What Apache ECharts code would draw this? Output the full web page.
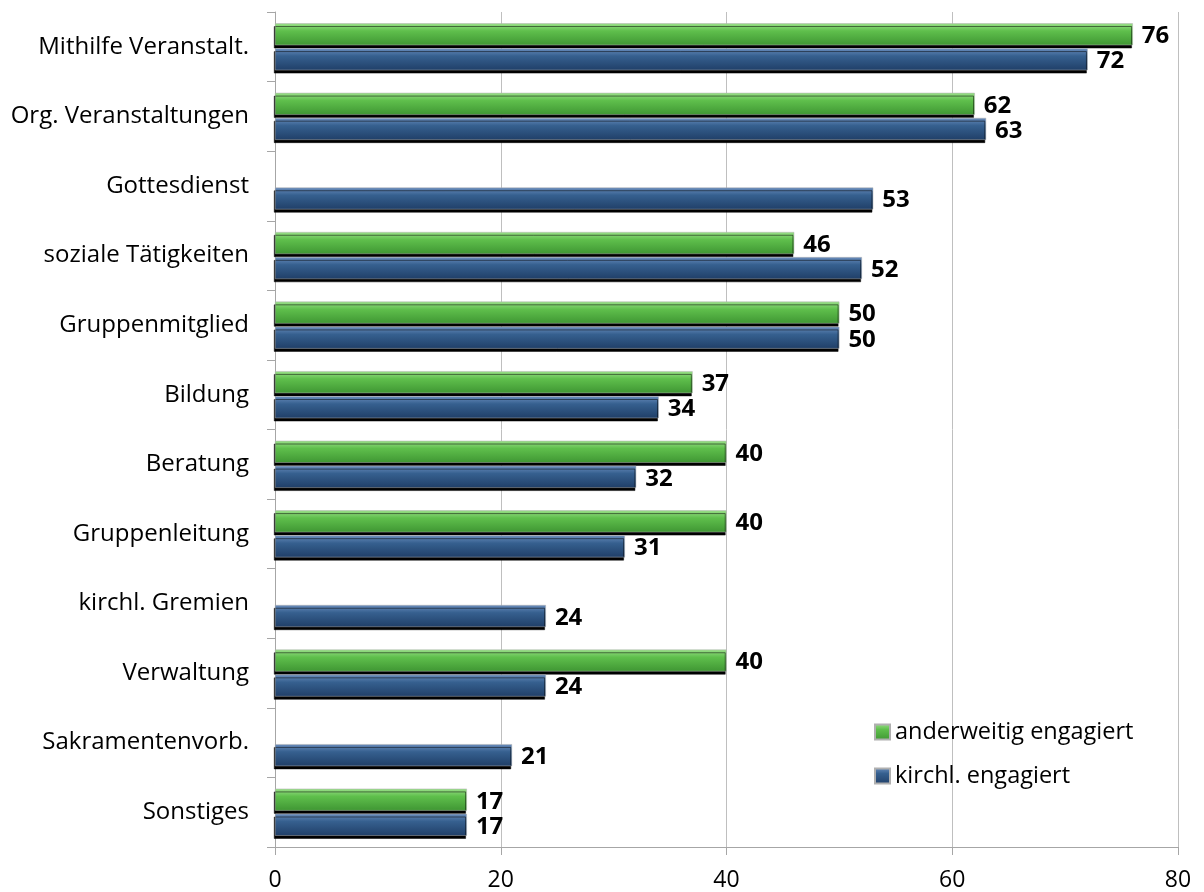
<!DOCTYPE html>
<html><head><meta charset="utf-8">
<script src="https://cdn.jsdelivr.net/npm/echarts@6/dist/echarts.min.js"></script>
<style>html,body{margin:0;padding:0;background:#fff}#c{width:1204px;height:892px}</style>
</head><body><div id="c"></div>
<script>
const categories = ["Mithilfe Veranstalt.","Org. Veranstaltungen","Gottesdienst","soziale Tätigkeiten","Gruppenmitglied","Bildung","Beratung","Gruppenleitung","kirchl. Gremien","Verwaltung","Sakramentenvorb.","Sonstiges"];
const anderweitig = [76,62,null,46,50,37,40,40,null,40,null,17];
const kirchlich = [72,63,53,52,50,34,32,31,24,24,21,17];
const xTicks = [0,20,40,60,80];

const FONT = '"Open Sans", Lato, sans-serif';
const chart = echarts.init(document.getElementById('c'));
const grad = (a,b,c)=> new echarts.graphic.LinearGradient(0,0,0,1,[{offset:0,color:a},{offset:0.35,color:b},{offset:1,color:c}]);
const greenFill = grad('#9be08a','#5fbf4c','#3f9633');
const blueFill = grad('#6a8dbd','#36608f','#203f68');
const lbl = {show:true, position:'right', distance:9, fontFamily:FONT, fontWeight:'bold', fontSize:24, color:'#000', offset:[0,2]};
chart.setOption({
  animation:false,
  grid:{left:275, right:26, top:12, bottom:45},
  legend:{
    orient:'vertical', left:869, top:715, itemGap:20, itemWidth:15, itemHeight:15,
    textStyle:{fontFamily:FONT, fontSize:23.5, color:'#000'},
    data:[{name:'anderweitig engagiert', icon:'rect'},{name:'kirchl. engagiert', icon:'rect'}]
  },
  xAxis:{
    type:'value', min:xTicks[0], max:xTicks[xTicks.length-1], interval:20,
    axisLine:{show:true, lineStyle:{color:'#a6a6a6'}},
    axisTick:{show:true, length:8, lineStyle:{color:'#a6a6a6'}},
    splitLine:{show:true, lineStyle:{color:'#bfbfbf'}},
    axisLabel:{fontFamily:FONT, fontSize:23, color:'#000', margin:22}
  },
  yAxis:{
    type:'category', data:categories, inverse:true,
    axisLine:{show:true, lineStyle:{color:'#a6a6a6'}},
    axisTick:{show:true, length:8, alignWithLabel:false, lineStyle:{color:'#a6a6a6'}},
    axisLabel:{fontFamily:FONT, fontSize:24, color:'#000', margin:26}
  },
  series:[
    {name:'anderweitig engagiert', type:'bar', data:anderweitig, barWidth:22, barGap:'14%',
     itemStyle:{color:greenFill, borderColor:'#b0b0b0', borderWidth:0.5, shadowColor:'#000', shadowOffsetY:3, shadowOffsetX:-1, shadowBlur:0},
     label:lbl},
    {name:'kirchl. engagiert', type:'bar', data:kirchlich, barWidth:22,
     itemStyle:{color:blueFill, borderColor:'#b0b0b0', borderWidth:0.5, shadowColor:'#000', shadowOffsetY:3, shadowOffsetX:-1, shadowBlur:0},
     label:lbl}
  ]
});
</script></body></html>
